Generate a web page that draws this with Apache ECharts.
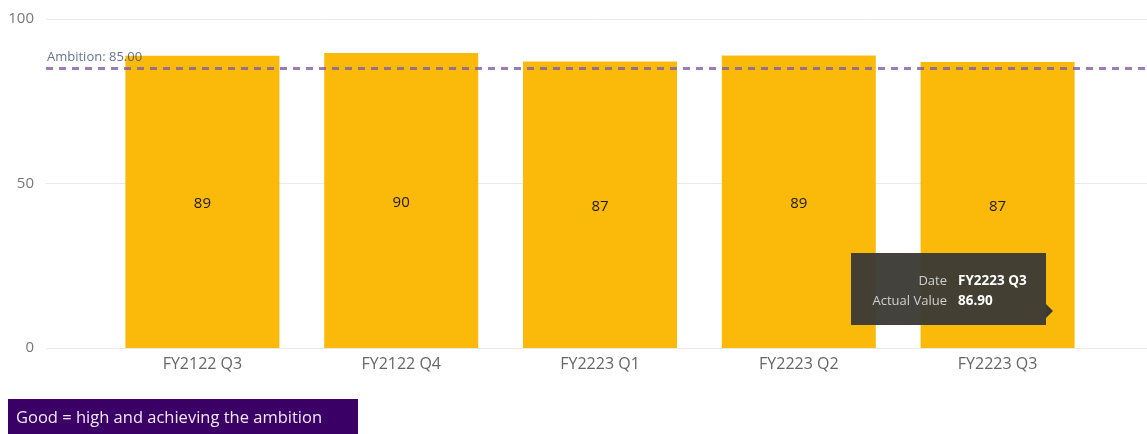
<!DOCTYPE html>
<html>
<head>
<meta charset="utf-8">
<script src="https://cdn.jsdelivr.net/npm/echarts@6/dist/echarts.min.js"></script>
<style>
  html, body { margin: 0; padding: 0; background: #fff; }
  #chart { width: 1147px; height: 434px; }
</style>
</head>
<body>
<div id="chart"></div>
<script>
const categories = ['FY2122 Q3', 'FY2122 Q4', 'FY2223 Q1', 'FY2223 Q2', 'FY2223 Q3'];
const actualValues = [88.8, 89.7, 87.1, 88.9, 86.9];
const ambition = 85;
const yTicks = [0, 50, 100];

const font = '"Open Sans", "Noto Sans", sans-serif';
const chart = echarts.init(document.getElementById('chart'), null, {renderer: 'canvas'});

const last = categories.length - 1;

const option = {
    backgroundColor: '#fff',
    animation: false,
    grid: [
        {left: 46, right: 0, top: 19, bottom: 86},
        {left: 103, right: 50, top: 19, bottom: 86}
    ],
    xAxis: [
        {gridIndex: 0, type: 'value', min: 0, max: 1, show: false},
        {
            gridIndex: 1,
            type: 'category',
            data: categories,
            axisLine: {show: false},
            axisTick: {show: false},
            axisLabel: {color: '#666', fontSize: 16, fontFamily: font, margin: 8}
        }
    ],
    yAxis: [
        {
            gridIndex: 0,
            type: 'value',
            min: yTicks[0],
            max: yTicks[yTicks.length - 1],
            interval: 50,
            axisLine: {show: false},
            axisTick: {show: false},
            axisLabel: {color: '#777', fontSize: 15, fontFamily: font, margin: 12},
            splitLine: {lineStyle: {color: '#e9e9e9', width: 1}}
        },
        {
            gridIndex: 1,
            type: 'value',
            min: 0,
            max: 100,
            show: false
        }
    ],
    series: [
        {
            type: 'bar',
            xAxisIndex: 1,
            yAxisIndex: 1,
            data: actualValues,
            barWidth: 154,
            itemStyle: {color: '#FBBA09'},
            z: 2,
            label: {
                show: true,
                position: 'inside',
                offset: [0, 2],
                color: '#1a1a1a',
                fontSize: 15,
                fontFamily: font,
                formatter: (p) => Math.round(p.value).toString()
            }
        },
        {
            type: 'line',
            xAxisIndex: 0,
            yAxisIndex: 0,
            data: [],
            symbol: 'none',
            z: 5,
            markLine: {
                silent: true,
                symbol: ['none', 'none'],
                data: [{yAxis: ambition}],
                lineStyle: {color: '#7e5ca6', type: [7, 6], width: 3, opacity: 0.8},
                label: {
                    position: 'insideStartTop',
                    distance: [1, 5],
                    formatter: 'Ambition: ' + ambition.toFixed(2),
                    color: '#3d4e78',
                    fontSize: 13,
                    fontFamily: font
                }
            }
        }
    ],
    graphic: [
        {
            type: 'group',
            left: 851,
            top: 253,
            z: 100,
            children: [
                {type: 'rect', z: 100, shape: {x: 0, y: 0, width: 195, height: 72}, style: {fill: '#3b3a35', opacity: 0.96}},
                {type: 'polygon', z: 100, shape: {points: [[195, 51], [202, 58], [195, 65]]}, style: {fill: '#3b3a35'}},
                {type: 'text', z: 101, style: {x: 96, y: 28, text: 'Date', align: 'right', verticalAlign: 'middle', fill: '#d0d0d0', font: '13px ' + font}},
                {type: 'text', z: 101, style: {x: 107, y: 28, text: categories[last], align: 'left', verticalAlign: 'middle', fill: '#ffffff', font: 'bold 13.5px ' + font}},
                {type: 'text', z: 101, style: {x: 96, y: 48, text: 'Actual Value', align: 'right', verticalAlign: 'middle', fill: '#d0d0d0', font: '13px ' + font}},
                {type: 'text', z: 101, style: {x: 107, y: 48, text: actualValues[last].toFixed(2), align: 'left', verticalAlign: 'middle', fill: '#ffffff', font: 'bold 13.5px ' + font}}
            ]
        },
        {
            type: 'group',
            left: 8,
            top: 399,
            children: [
                {type: 'rect', shape: {x: 0, y: 0, width: 350, height: 35}, style: {fill: '#3a0066'}},
                {type: 'text', style: {x: 8, y: 19, text: 'Good = high and achieving the ambition', verticalAlign: 'middle', fill: '#f0eaf6', font: '16.5px ' + font}}
            ]
        }
    ]
};

chart.setOption(option);
</script>
</body>
</html>
